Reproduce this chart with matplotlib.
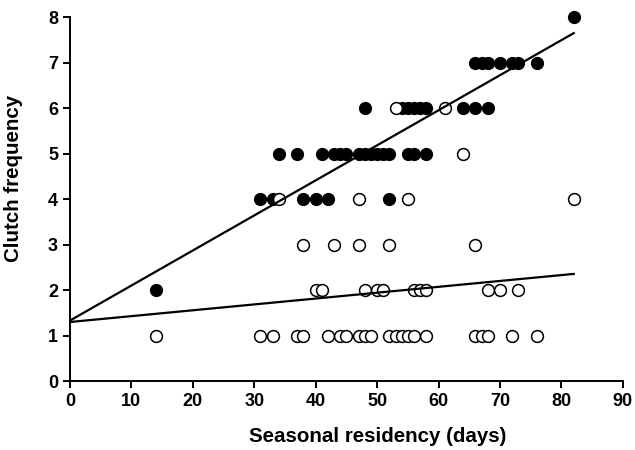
import matplotlib.pyplot as plt
import numpy as np

plt.rcParams['font.family'] = ['Liberation Sans', 'DejaVu Sans']
plt.rcParams['font.weight'] = 'bold'

# Filled circles (one group)
filled_x = [14, 31, 33, 38, 40, 42, 52,
            34, 37, 41, 43, 44, 45, 47, 48, 49, 50, 51, 52, 55, 56, 58,
            48, 54, 55, 56, 57, 58, 64, 66, 68,
            66, 67, 68, 70, 72, 73, 76,
            82]
filled_y = [2, 4, 4, 4, 4, 4, 4,
            5, 5, 5, 5, 5, 5, 5, 5, 5, 5, 5, 5, 5, 5, 5,
            6, 6, 6, 6, 6, 6, 6, 6, 6,
            7, 7, 7, 7, 7, 7, 7,
            8]

# Open circles (other group)
open_x = [14, 31, 33, 37, 38, 42, 44, 45, 47, 48, 49, 52, 53, 54, 55, 56, 58,
          66, 67, 68, 72, 76,
          40, 41, 48, 50, 51, 56, 57, 58, 68, 70, 73,
          38, 43, 47, 52, 66,
          34, 47, 55, 82,
          64,
          53, 61]
open_y = [1] * 22 + [2] * 11 + [3] * 5 + [4] * 4 + [5] + [6] * 2

# Fitted lines (intercept, slope)
fit_x = [0, 82]
filled_fit = (1.33, 0.0771)
open_fit = (1.30, 0.0129)

fig = plt.figure(figsize=(6.35, 4.5), dpi=100)
ax = fig.add_axes([0.110, 0.153, 0.871, 0.8086])

ax.plot(filled_x, filled_y, 'o', color='black', ms=8.5, mec='black', mew=1,
        zorder=3, clip_on=False)
ax.plot(open_x, open_y, 'o', color='white', ms=8.5, mec='black', mew=1.1,
        zorder=4, clip_on=False)

fx = np.array(fit_x)
ax.plot(fx, filled_fit[0] + filled_fit[1] * fx, color='black', lw=1.6, zorder=5)
ax.plot(fx, open_fit[0] + open_fit[1] * fx, color='black', lw=1.6, zorder=5)

ax.set_xlim(0, 90)
ax.set_ylim(0, 8)
ax.set_xticks(range(0, 91, 10))
ax.set_yticks(range(0, 9))
ax.spines['top'].set_visible(False)
ax.spines['right'].set_visible(False)
for s in ['left', 'bottom']:
    ax.spines[s].set_linewidth(1.4)
ax.tick_params(width=1.4, length=5, labelsize=13)
for lab in ax.get_xticklabels() + ax.get_yticklabels():
    lab.set_fontweight('bold')

ax.set_xlabel('Seasonal residency (days)', fontsize=14.8, fontweight='bold')
ax.set_ylabel('Clutch frequency', fontsize=14.8, fontweight='bold')
# labels sit a little off the axes centre in the original
ax.xaxis.set_label_coords(0.557, -0.125)
ax.yaxis.set_label_coords(-0.085, 0.557)

fig.savefig('out.png', dpi=100)
